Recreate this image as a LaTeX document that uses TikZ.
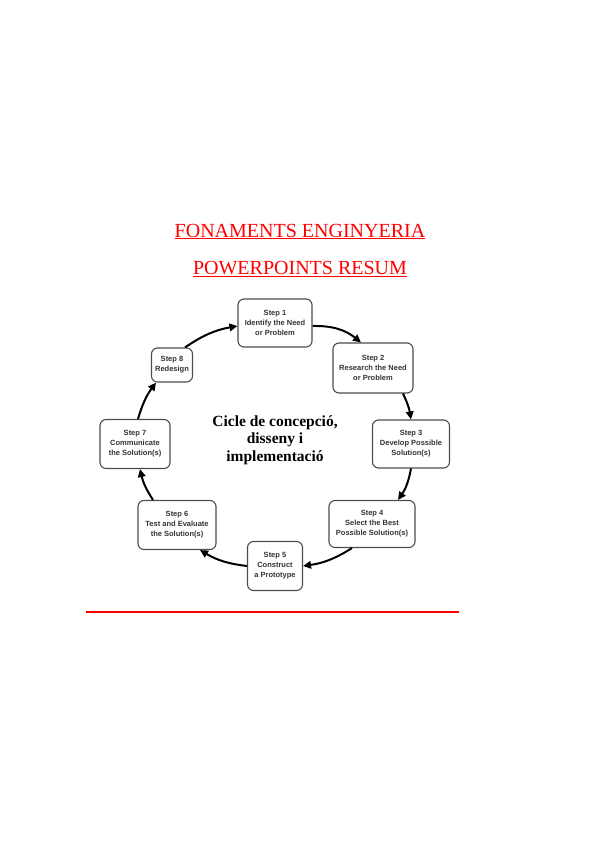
\documentclass[tikz,border=0pt]{standalone}
\usepackage{fontspec}
\setmainfont{Liberation Serif}
\newfontfamily\boxfont{Liberation Sans}
\usepackage{tikz}
\usetikzlibrary{arrows.meta,positioning}

\begin{document}
\begin{tikzpicture}[x=1pt,y=-1pt]
\tikzstyle{stepbox}=[draw=black!70, line width=1.1pt, rounded corners=6pt, align=center, inner sep=1pt, font=\boxfont\bfseries\fontsize{7.5}{10}\selectfont, text=black!80]
\tikzstyle{cyc}=[line width=2pt, -{Triangle[length=8pt,width=7.5pt]}]
\tikzstyle{title}=[anchor=base, text=red, font=\fontsize{20}{24}\selectfont]
\useasboundingbox (0,0) rectangle (599,848);

\node[title] (t1) at (300,237) {\underline{FONAMENTS ENGINYERIA}};
\node[title] (t2) at (300,274) {\underline{POWERPOINTS RESUM}};

\node[stepbox, minimum width=74pt, minimum height=48pt] (1) at (275,323) {Step 1\\Identify the Need\\or Problem};
\node[stepbox, minimum width=80pt, minimum height=50pt] (2) at (373,368) {Step 2\\Research the Need\\or Problem};
\node[stepbox, minimum width=77pt, minimum height=48pt] (3) at (411,444) {Step 3\\Develop Possible\\Solution(s)};
\node[stepbox, minimum width=86pt, minimum height=47pt] (4) at (372,524) {Step 4\\Select the Best\\Possible Solution(s)};
\node[stepbox, minimum width=55pt, minimum height=49pt] (5) at (275,566) {Step 5\\Construct\\a Prototype};
\node[stepbox, minimum width=78pt, minimum height=49pt] (6) at (177,525) {Step 6\\Test and Evaluate\\the Solution(s)};
\node[stepbox, minimum width=70pt, minimum height=49pt] (7) at (135,444) {Step 7\\Communicate\\the Solution(s)};
\node[stepbox, minimum width=41pt, minimum height=34pt] (8) at (172,365) {Step 8\\Redesign};

\node[align=center, font=\bfseries\fontsize{15.5}{17.5}\selectfont] (c) at (275,440) {Cicle de concepció,\\disseny i\\implementació};

\draw[cyc] ([yshift=-3pt]1.east) to[bend left=20] ([xshift=-12pt]2.north);
\draw[cyc] ([xshift=30pt]2.south) to[bend left=8] (3.north);
\draw[cyc] (3.south) to[bend left=12] ([xshift=26pt]4.north);
\draw[cyc] ([xshift=-20pt]4.south) to[bend left=12] (5.east);
\draw[cyc] (5.west) to[bend left=12] ([xshift=23pt]6.south);
\draw[cyc] ([xshift=-24pt]6.north) to[bend left=10] ([xshift=5pt]7.south);
\draw[cyc] ([xshift=3pt]7.north) to[bend left=10] ([xshift=-16pt]8.south);
\draw[cyc] ([xshift=13pt]8.north) to[bend left=12] ([yshift=-3pt]1.west);

% line at the bottom
\draw[red, line width=1.2pt] (86,612) -- (459,612);
\end{tikzpicture}
\end{document}
